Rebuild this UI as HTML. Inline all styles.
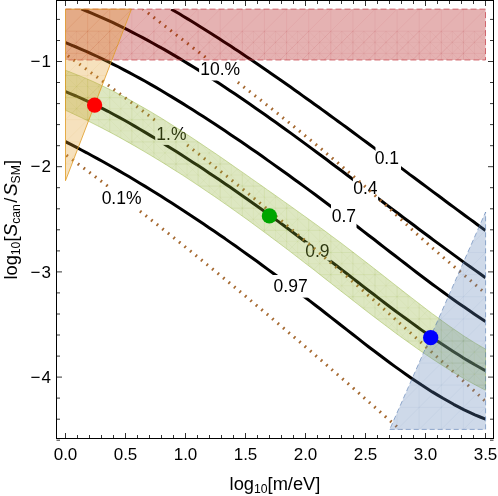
<!DOCTYPE html><html><head><meta charset="utf-8"><style>html,body{margin:0;padding:0;background:#fff}</style></head><body><svg width="498" height="496" viewBox="0 0 498 496" style="display:block;will-change:transform;font-family:'Liberation Sans',sans-serif"><rect width="498" height="496" fill="#fff"/><defs><clipPath id="c"><rect x="65.5" y="9.1" width="420.0" height="420.4"/></clipPath></defs><g clip-path="url(#c)"><path d="M171.3 9.1 L175.3 11.5 L179.3 13.8 L183.2 16.2 L187.2 18.6 L191.2 21.1 L195.2 23.5 L199.1 26.0 L203.1 28.5 L207.1 31.0 L211.1 33.5 L215.0 36.0 L219.0 38.6 L223.0 41.2 L227.0 43.7 L231.0 46.3 L234.9 49.0 L238.9 51.6 L242.9 54.3 L246.9 56.9 L250.8 59.6 L254.8 62.3 L258.8 65.0 L262.8 67.7 L266.8 70.5 L270.7 73.2 L274.7 76.0 L278.7 78.7 L282.7 81.5 L286.6 84.3 L290.6 87.1 L294.6 89.9 L298.6 92.8 L302.5 95.6 L306.5 98.5 L310.5 101.3 L314.5 104.2 L318.5 107.0 L322.4 109.9 L326.4 112.8 L330.4 115.7 L334.4 118.6 L338.3 121.5 L342.3 124.4 L346.3 127.3 L350.3 130.3 L354.3 133.2 L358.2 136.1 L362.2 139.1 L366.2 142.0 L370.2 145.0 L374.1 147.9 L378.1 150.9 L382.1 153.8 L386.1 156.8 L390.0 159.8 L394.0 162.7 L398.0 165.7 L402.0 168.6 L406.0 171.6 L409.9 174.6 L413.9 177.5 L417.9 180.5 L421.9 183.5 L425.8 186.4 L429.8 189.4 L433.8 192.4 L437.8 195.3 L441.8 198.3 L445.7 201.2 L449.7 204.2 L453.7 207.1 L457.7 210.1 L461.6 213.0 L465.6 216.0 L469.6 218.9 L473.6 221.8 L477.5 224.7 L481.5 227.6 L485.5 230.5" fill="none" stroke="#000" stroke-width="3" stroke-linejoin="round"/><path d="M81.3 8.9 L86.4 11.0 L91.5 13.1 L96.6 15.3 L101.8 17.6 L106.9 19.9 L112.0 22.2 L117.1 24.7 L122.2 27.2 L127.3 29.7 L132.5 32.3 L137.6 35.0 L142.7 37.7 L147.8 40.4 L152.9 43.2 L158.0 46.1 L163.2 48.9 L168.3 51.9 L173.4 54.9 L178.5 57.9 L183.6 61.0 L188.7 64.1 L193.9 67.3 L199.0 70.4 L204.1 73.7 L209.2 76.9 L214.3 80.3 L219.4 83.6 L224.6 87.0 L229.7 90.4 L234.8 93.8 L239.9 97.3 L245.0 100.8 L250.1 104.3 L255.3 107.9 L260.4 111.4 L265.5 115.0 L270.6 118.7 L275.7 122.3 L280.8 126.0 L286.0 129.7 L291.1 133.4 L296.2 137.1 L301.3 140.9 L306.4 144.6 L311.5 148.4 L316.7 152.2 L321.8 156.0 L326.9 159.8 L332.0 163.7 L337.1 167.5 L342.2 171.3 L347.4 175.2 L352.5 179.0 L357.6 182.9 L362.7 186.8 L367.8 190.6 L372.9 194.5 L378.1 198.4 L383.2 202.2 L388.3 206.1 L393.4 209.9 L398.5 213.8 L403.6 217.7 L408.8 221.5 L413.9 225.3 L419.0 229.2 L424.1 233.0 L429.2 236.8 L434.3 240.6 L439.5 244.4 L444.6 248.1 L449.7 251.9 L454.8 255.6 L459.9 259.4 L465.0 263.1 L470.2 266.7 L475.3 270.4 L480.4 274.0 L485.5 277.7" fill="none" stroke="#000" stroke-width="3" stroke-linejoin="round"/><path d="M65.5 42.6 L70.8 44.8 L76.1 47.0 L81.4 49.3 L86.8 51.6 L92.1 54.1 L97.4 56.5 L102.7 59.1 L108.0 61.7 L113.3 64.3 L118.7 67.0 L124.0 69.8 L129.3 72.6 L134.6 75.5 L139.9 78.4 L145.2 81.3 L150.6 84.4 L155.9 87.4 L161.2 90.5 L166.5 93.7 L171.8 96.9 L177.1 100.1 L182.5 103.4 L187.8 106.7 L193.1 110.0 L198.4 113.4 L203.7 116.8 L209.0 120.3 L214.4 123.7 L219.7 127.3 L225.0 130.8 L230.3 134.4 L235.6 138.0 L240.9 141.6 L246.3 145.3 L251.6 148.9 L256.9 152.6 L262.2 156.3 L267.5 160.1 L272.8 163.9 L278.2 167.7 L283.5 171.5 L288.8 175.3 L294.1 179.2 L299.4 183.0 L304.7 186.9 L310.1 190.9 L315.4 194.8 L320.7 198.8 L326.0 202.7 L331.3 206.7 L336.6 210.8 L342.0 214.8 L347.3 218.9 L352.6 222.9 L357.9 227.0 L363.2 231.1 L368.5 235.2 L373.9 239.3 L379.2 243.5 L384.5 247.6 L389.8 251.7 L395.1 255.8 L400.4 259.9 L405.8 264.0 L411.1 268.1 L416.4 272.2 L421.7 276.2 L427.0 280.2 L432.3 284.2 L437.7 288.1 L443.0 292.0 L448.3 295.9 L453.6 299.7 L458.9 303.4 L464.2 307.1 L469.6 310.8 L474.9 314.4 L480.2 317.9 L485.5 321.4" fill="none" stroke="#000" stroke-width="3" stroke-linejoin="round"/><path d="M65.5 91.7 L70.8 93.8 L76.1 96.0 L81.4 98.4 L86.8 100.8 L92.1 103.3 L97.4 105.9 L102.7 108.6 L108.0 111.3 L113.3 114.2 L118.7 117.1 L124.0 120.0 L129.3 123.0 L134.6 126.1 L139.9 129.2 L145.2 132.4 L150.6 135.6 L155.9 138.8 L161.2 142.1 L166.5 145.4 L171.8 148.7 L177.1 152.1 L182.5 155.5 L187.8 158.9 L193.1 162.4 L198.4 165.8 L203.7 169.3 L209.0 172.9 L214.4 176.4 L219.7 180.0 L225.0 183.7 L230.3 187.3 L235.6 191.0 L240.9 194.7 L246.3 198.4 L251.6 202.2 L256.9 206.0 L262.2 209.8 L267.5 213.6 L272.8 217.5 L278.2 221.4 L283.5 225.3 L288.8 229.2 L294.1 233.2 L299.4 237.2 L304.7 241.2 L310.1 245.3 L315.4 249.3 L320.7 253.4 L326.0 257.5 L331.3 261.6 L336.6 265.8 L342.0 269.9 L347.3 274.0 L352.6 278.1 L357.9 282.2 L363.2 286.4 L368.5 290.5 L373.9 294.5 L379.2 298.6 L384.5 302.7 L389.8 306.7 L395.1 310.7 L400.4 314.6 L405.8 318.5 L411.1 322.4 L416.4 326.3 L421.7 330.1 L427.0 333.8 L432.3 337.5 L437.7 341.2 L443.0 344.7 L448.3 348.2 L453.6 351.7 L458.9 355.1 L464.2 358.4 L469.6 361.6 L474.9 364.8 L480.2 367.8 L485.5 370.8" fill="none" stroke="#000" stroke-width="3" stroke-linejoin="round"/><path d="M65.5 141.7 L70.8 144.4 L76.1 147.2 L81.4 150.0 L86.8 152.8 L92.1 155.7 L97.4 158.6 L102.7 161.5 L108.0 164.5 L113.3 167.5 L118.7 170.6 L124.0 173.7 L129.3 176.8 L134.6 180.0 L139.9 183.2 L145.2 186.4 L150.6 189.7 L155.9 193.0 L161.2 196.3 L166.5 199.7 L171.8 203.1 L177.1 206.5 L182.5 209.9 L187.8 213.4 L193.1 216.9 L198.4 220.5 L203.7 224.1 L209.0 227.7 L214.4 231.3 L219.7 235.0 L225.0 238.6 L230.3 242.4 L235.6 246.1 L240.9 249.9 L246.3 253.7 L251.6 257.5 L256.9 261.3 L262.2 265.2 L267.5 269.1 L272.8 273.0 L278.2 277.0 L283.5 280.9 L288.8 284.9 L294.1 288.9 L299.4 293.0 L304.7 297.0 L310.1 301.1 L315.4 305.2 L320.7 309.3 L326.0 313.5 L331.3 317.6 L336.6 321.8 L342.0 326.0 L347.3 330.1 L352.6 334.3 L357.9 338.4 L363.2 342.6 L368.5 346.7 L373.9 350.7 L379.2 354.8 L384.5 358.8 L389.8 362.7 L395.1 366.6 L400.4 370.4 L405.8 374.2 L411.1 377.9 L416.4 381.5 L421.7 385.1 L427.0 388.5 L432.3 391.9 L437.7 395.1 L443.0 398.3 L448.3 401.3 L453.6 404.3 L458.9 407.1 L464.2 409.8 L469.6 412.3 L474.9 414.8 L480.2 417.0 L485.5 419.2" fill="none" stroke="#000" stroke-width="3" stroke-linejoin="round"/><rect x="375.5" y="146.5" width="25.5" height="27.5" fill="#fff"/><text x="386.8" y="164.0" font-size="17.5" text-anchor="middle">0.1</text><rect x="352.9" y="176.5" width="25.2" height="27.5" fill="#fff"/><text x="365.4" y="193.8" font-size="17.5" text-anchor="middle">0.4</text><rect x="331.0" y="203.5" width="25.5" height="28.5" fill="#fff"/><text x="343.9" y="222.0" font-size="17.5" text-anchor="middle">0.7</text><rect x="304.5" y="242.3" width="27.0" height="18.2" fill="#fff"/><text x="317.4" y="257.0" font-size="17.5" text-anchor="middle">0.9</text><rect x="272.7" y="275.0" width="35.9" height="22.6" fill="#fff"/><text x="290.6" y="292.4" font-size="17.5" text-anchor="middle">0.97</text><path d="M143.0 9.0 L147.3 12.4 L151.7 15.8 L156.0 19.2 L160.3 22.5 L164.7 25.9 L169.0 29.2 L173.3 32.6 L177.7 35.9 L182.0 39.3 L186.4 42.6 L190.7 46.0 L195.0 49.3 L199.4 52.6 L203.7 56.0 L208.0 59.3 L212.4 62.6 L216.7 66.0 L221.0 69.3 L225.4 72.7 L229.7 76.0 L234.0 79.4 L238.4 82.7 L242.7 86.1 L247.1 89.5 L251.4 92.9 L255.7 96.3 L260.1 99.6 L264.4 103.1 L268.7 106.5 L273.1 109.9 L277.4 113.3 L281.7 116.8 L286.1 120.3 L290.4 123.7 L294.7 127.2 L299.1 130.8 L303.4 134.3 L307.7 137.8 L312.1 141.4 L316.4 145.0 L320.8 148.6 L325.1 152.2 L329.4 155.8 L333.8 159.5 L338.1 163.1 L342.4 166.8 L346.8 170.6 L351.1 174.3 L355.4 178.1 L359.8 181.9 L364.1 185.7 L368.4 189.6 L372.8 193.4 L377.1 197.3 L381.4 201.3 L385.8 205.2 L390.1 209.2 L394.5 213.2 L398.8 217.3 L403.1 221.3 L407.5 225.4 L411.8 229.4 L416.1 233.4 L420.5 237.3 L424.8 241.2 L429.1 245.0 L433.5 248.9 L437.8 252.6 L442.1 256.4 L446.5 260.1 L450.8 263.8 L455.2 267.5 L459.5 271.1 L463.8 274.8 L468.2 278.5 L472.5 282.3 L476.8 286.0 L481.2 289.8 L485.5 293.6" fill="none" stroke="#a5682f" stroke-width="3.1" stroke-dasharray="1.7 5.4" stroke-dashoffset="0.81"/><path d="M65.5 54.0 L70.8 57.9 L76.1 61.7 L81.4 65.6 L86.8 69.5 L92.1 73.4 L97.4 77.3 L102.7 81.2 L108.0 85.1 L113.3 89.1 L118.7 93.0 L124.0 97.0 L129.3 100.9 L134.6 104.9 L139.9 108.9 L145.2 112.9 L150.6 117.0 L155.9 121.0 L161.2 125.0 L166.5 129.1 L171.8 133.2 L177.1 137.3 L182.5 141.4 L187.8 145.5 L193.1 149.7 L198.4 153.8 L203.7 158.0 L209.0 162.2 L214.4 166.4 L219.7 170.6 L225.0 174.8 L230.3 179.1 L235.6 183.3 L240.9 187.6 L246.3 191.9 L251.6 196.3 L256.9 200.6 L262.2 204.9 L267.5 209.3 L272.8 213.7 L278.2 218.1 L283.5 222.6 L288.8 227.0 L294.1 231.5 L299.4 235.9 L304.7 240.4 L310.1 244.9 L315.4 249.5 L320.7 254.0 L326.0 258.6 L331.3 263.1 L336.6 267.7 L342.0 272.3 L347.3 276.9 L352.6 281.6 L357.9 286.2 L363.2 290.9 L368.5 295.6 L373.9 300.2 L379.2 304.9 L384.5 309.7 L389.8 314.4 L395.1 319.1 L400.4 323.9 L405.8 328.6 L411.1 333.4 L416.4 338.2 L421.7 343.0 L427.0 347.8 L432.3 352.6 L437.7 357.5 L443.0 362.3 L448.3 367.2 L453.6 372.0 L458.9 376.9 L464.2 381.8 L469.6 386.7 L474.9 391.6 L480.2 396.5 L485.5 401.4" fill="none" stroke="#a5682f" stroke-width="3.1" stroke-dasharray="1.7 5.4" stroke-dashoffset="4.21"/><path d="M65.5 154.6 L69.8 157.7 L74.1 160.9 L78.4 164.2 L82.7 167.4 L87.1 170.6 L91.4 173.8 L95.7 177.1 L100.0 180.4 L104.3 183.6 L108.6 186.9 L112.9 190.2 L117.2 193.5 L121.5 196.8 L125.8 200.1 L130.2 203.5 L134.5 206.8 L138.8 210.2 L143.1 213.5 L147.4 216.9 L151.7 220.3 L156.0 223.7 L160.3 227.1 L164.6 230.5 L168.9 233.9 L173.3 237.3 L177.6 240.8 L181.9 244.2 L186.2 247.7 L190.5 251.1 L194.8 254.6 L199.1 258.1 L203.4 261.6 L207.7 265.1 L212.0 268.6 L216.4 272.1 L220.7 275.7 L225.0 279.2 L229.3 282.7 L233.6 286.3 L237.9 289.9 L242.2 293.4 L246.5 297.0 L250.8 300.6 L255.1 304.2 L259.5 307.8 L263.8 311.4 L268.1 315.0 L272.4 318.7 L276.7 322.3 L281.0 326.0 L285.3 329.6 L289.6 333.3 L293.9 336.9 L298.2 340.6 L302.6 344.3 L306.9 348.0 L311.2 351.7 L315.5 355.4 L319.8 359.1 L324.1 362.8 L328.4 366.6 L332.7 370.3 L337.0 374.1 L341.3 377.8 L345.7 381.6 L350.0 385.3 L354.3 389.1 L358.6 392.9 L362.9 396.7 L367.2 400.5 L371.5 404.3 L375.8 408.1 L380.1 411.9 L384.4 415.7 L388.8 419.6 L393.1 423.4 L397.4 427.2 L401.7 431.1 L406.0 434.9" fill="none" stroke="#a5682f" stroke-width="3.1" stroke-dasharray="1.7 5.4" stroke-dashoffset="5.89"/><rect x="199.1" y="58.0" width="41.4" height="22.5" fill="#fff"/><text x="220.2" y="75.1" font-size="17.5" text-anchor="middle">10.%</text><rect x="155.2" y="119.3" width="31.3" height="25.6" fill="#fff"/><text x="171.4" y="139.6" font-size="17.5" text-anchor="middle">1.%</text><rect x="100.5" y="187.0" width="42.0" height="22.0" fill="#fff"/><text x="121.6" y="204.1" font-size="17.5" text-anchor="middle">0.1%</text></g><rect x="65.5" y="9.1" width="420" height="50.9" fill="#aa0000" fill-opacity="0.30"/><path d="M65.5 9.1 H485.5 V60 H65.5" fill="none" stroke="#c43a44" stroke-width="0.7" stroke-dasharray="6 3"/><path d="M65.5 70.3 L70.8 72.3 L76.1 74.4 L81.4 76.5 L86.8 78.8 L92.1 81.1 L97.4 83.5 L102.7 86.0 L108.0 88.6 L113.3 91.2 L118.7 94.0 L124.0 96.8 L129.3 99.6 L134.6 102.6 L139.9 105.6 L145.2 108.6 L150.6 111.7 L155.9 114.9 L161.2 118.1 L166.5 121.4 L171.8 124.8 L177.1 128.1 L182.5 131.6 L187.8 135.0 L193.1 138.5 L198.4 142.0 L203.7 145.6 L209.0 149.2 L214.4 152.8 L219.7 156.4 L225.0 160.1 L230.3 163.8 L235.6 167.5 L240.9 171.2 L246.3 174.9 L251.6 178.7 L256.9 182.4 L262.2 186.1 L267.5 189.9 L272.8 193.6 L278.2 197.4 L283.5 201.2 L288.8 204.9 L294.1 208.7 L299.4 212.5 L304.7 216.3 L310.1 220.2 L315.4 224.0 L320.7 227.9 L326.0 231.8 L331.3 235.8 L336.6 239.7 L342.0 243.7 L347.3 247.8 L352.6 251.8 L357.9 255.9 L363.2 260.0 L368.5 264.1 L373.9 268.3 L379.2 272.4 L384.5 276.6 L389.8 280.8 L395.1 284.9 L400.4 289.1 L405.8 293.3 L411.1 297.4 L416.4 301.5 L421.7 305.6 L427.0 309.7 L432.3 313.7 L437.7 317.6 L443.0 321.5 L448.3 325.3 L453.6 329.0 L458.9 332.6 L464.2 336.2 L469.6 339.6 L474.9 342.9 L480.2 346.0 L485.5 349.1 L485.5 390.2 L480.2 387.5 L474.9 384.7 L469.6 381.8 L464.2 378.8 L458.9 375.6 L453.6 372.5 L448.3 369.2 L443.0 365.8 L437.7 362.4 L432.3 358.9 L427.0 355.3 L421.7 351.7 L416.4 348.0 L411.1 344.2 L405.8 340.4 L400.4 336.6 L395.1 332.7 L389.8 328.7 L384.5 324.7 L379.2 320.7 L373.9 316.7 L368.5 312.6 L363.2 308.5 L357.9 304.3 L352.6 300.2 L347.3 296.0 L342.0 291.9 L336.6 287.7 L331.3 283.5 L326.0 279.4 L320.7 275.2 L315.4 271.0 L310.1 266.9 L304.7 262.8 L299.4 258.7 L294.1 254.6 L288.8 250.5 L283.5 246.5 L278.2 242.5 L272.8 238.5 L267.5 234.5 L262.2 230.6 L256.9 226.7 L251.6 222.8 L246.3 218.9 L240.9 215.1 L235.6 211.3 L230.3 207.5 L225.0 203.8 L219.7 200.1 L214.4 196.4 L209.0 192.8 L203.7 189.2 L198.4 185.6 L193.1 182.1 L187.8 178.6 L182.5 175.1 L177.1 171.7 L171.8 168.4 L166.5 165.0 L161.2 161.7 L155.9 158.5 L150.6 155.3 L145.2 152.1 L139.9 149.0 L134.6 145.9 L129.3 142.9 L124.0 139.9 L118.7 136.9 L113.3 134.0 L108.0 131.2 L102.7 128.4 L97.4 125.7 L92.1 123.0 L86.8 120.3 L81.4 117.7 L76.1 115.2 L70.8 112.7 L65.5 110.3 Z" fill="#8fb032" fill-opacity="0.3" stroke="#8fb032" stroke-opacity="0.6" stroke-width="0.7"/><path d="M65.5 9.1 L131.5 9.1 L65.5 180.7 Z" fill="#e19c24" fill-opacity="0.30" stroke="#e19c24" stroke-width="0.8"/><path d="M389.7 429.4 L485.6 429.4 L485.6 212 Z" fill="#5e81b5" fill-opacity="0.3" stroke="#5e81b5" stroke-opacity="0.8" stroke-width="0.8" stroke-dasharray="5 3"/><path d="M65.5 31.2 V60 M65.5 31.2 l28.7 28.8 M76.6 31.2 l-28.7 28.8 M76.6 31.2 V60 M76.6 31.2 l28.7 28.8 M87.6 31.2 l-28.7 28.8 M87.6 31.2 V60 M87.6 31.2 l28.7 28.8 M98.7 31.2 l-28.7 28.8 M98.7 31.2 V60 M98.7 31.2 l28.7 28.8 M109.7 31.2 l-28.7 28.8 M109.7 31.2 V60 M109.7 31.2 l28.7 28.8 M120.8 31.2 l-28.7 28.8 M120.8 31.2 V60 M120.8 31.2 l28.7 28.8 M131.8 31.2 l-28.7 28.8 M131.8 31.2 V60 M131.8 31.2 l28.7 28.8 M142.9 31.2 l-28.7 28.8 M142.9 31.2 V60 M142.9 31.2 l28.7 28.8 M153.9 31.2 l-28.7 28.8 M153.9 31.2 V60 M153.9 31.2 l28.7 28.8 M165.0 31.2 l-28.7 28.8 M165.0 31.2 V60 M165.0 31.2 l28.7 28.8 M176.0 31.2 l-28.7 28.8 M176.0 31.2 V60 M176.0 31.2 l28.7 28.8 M187.1 31.2 l-28.7 28.8 M187.1 31.2 V60 M187.1 31.2 l28.7 28.8 M198.1 31.2 l-28.7 28.8 M198.1 31.2 V60 M198.1 31.2 l28.7 28.8 M209.2 31.2 l-28.7 28.8 M209.2 31.2 V60 M209.2 31.2 l28.7 28.8 M220.2 31.2 l-28.7 28.8 M220.2 31.2 V60 M220.2 31.2 l28.7 28.8 M231.3 31.2 l-28.7 28.8 M231.3 31.2 V60 M231.3 31.2 l28.7 28.8 M242.3 31.2 l-28.7 28.8 M242.3 31.2 V60 M242.3 31.2 l28.7 28.8 M253.4 31.2 l-28.7 28.8 M253.4 31.2 V60 M253.4 31.2 l28.7 28.8 M264.4 31.2 l-28.7 28.8 M264.4 31.2 V60 M264.4 31.2 l28.7 28.8 M275.5 31.2 l-28.7 28.8 M275.5 31.2 V60 M275.5 31.2 l28.7 28.8 M286.6 31.2 l-28.7 28.8 M286.6 31.2 V60 M286.6 31.2 l28.7 28.8 M297.6 31.2 l-28.7 28.8 M297.6 31.2 V60 M297.6 31.2 l28.7 28.8 M308.7 31.2 l-28.7 28.8 M308.7 31.2 V60 M308.7 31.2 l28.7 28.8 M319.7 31.2 l-28.7 28.8 M319.7 31.2 V60 M319.7 31.2 l28.7 28.8 M330.8 31.2 l-28.7 28.8 M330.8 31.2 V60 M330.8 31.2 l28.7 28.8 M341.8 31.2 l-28.7 28.8 M341.8 31.2 V60 M341.8 31.2 l28.7 28.8 M352.9 31.2 l-28.7 28.8 M352.9 31.2 V60 M352.9 31.2 l28.7 28.8 M363.9 31.2 l-28.7 28.8 M363.9 31.2 V60 M363.9 31.2 l28.7 28.8 M375.0 31.2 l-28.7 28.8 M375.0 31.2 V60 M375.0 31.2 l28.7 28.8 M386.0 31.2 l-28.7 28.8 M386.0 31.2 V60 M386.0 31.2 l28.7 28.8 M397.1 31.2 l-28.7 28.8 M397.1 31.2 V60 M397.1 31.2 l28.7 28.8 M408.1 31.2 l-28.7 28.8 M408.1 31.2 V60 M408.1 31.2 l28.7 28.8 M419.2 31.2 l-28.7 28.8 M419.2 31.2 V60 M419.2 31.2 l28.7 28.8 M430.2 31.2 l-28.7 28.8 M430.2 31.2 V60 M430.2 31.2 l28.7 28.8 M441.3 31.2 l-28.7 28.8 M441.3 31.2 V60 M441.3 31.2 l28.7 28.8 M452.3 31.2 l-28.7 28.8 M452.3 31.2 V60 M452.3 31.2 l28.7 28.8 M463.4 31.2 l-28.7 28.8 M463.4 31.2 V60 M463.4 31.2 l28.7 28.8 M474.4 31.2 l-28.7 28.8 M474.4 31.2 V60 M474.4 31.2 l28.7 28.8 M485.5 31.2 l-28.7 28.8 M65.5 42.3 H485.5" fill="none" stroke-width="0.5" stroke="#b01020" stroke-opacity="0.07" clip-path="url(#cr)"/><defs><clipPath id="cr"><rect x="65.5" y="9.1" width="420" height="50.9"/></clipPath><clipPath id="co"><path d="M65.5 9.1 L131.5 9.1 L65.5 180.7 Z"/></clipPath><clipPath id="cg"><path d="M65.5 70.3 L70.8 72.3 L76.1 74.4 L81.4 76.5 L86.8 78.8 L92.1 81.1 L97.4 83.5 L102.7 86.0 L108.0 88.6 L113.3 91.2 L118.7 94.0 L124.0 96.8 L129.3 99.6 L134.6 102.6 L139.9 105.6 L145.2 108.6 L150.6 111.7 L155.9 114.9 L161.2 118.1 L166.5 121.4 L171.8 124.8 L177.1 128.1 L182.5 131.6 L187.8 135.0 L193.1 138.5 L198.4 142.0 L203.7 145.6 L209.0 149.2 L214.4 152.8 L219.7 156.4 L225.0 160.1 L230.3 163.8 L235.6 167.5 L240.9 171.2 L246.3 174.9 L251.6 178.7 L256.9 182.4 L262.2 186.1 L267.5 189.9 L272.8 193.6 L278.2 197.4 L283.5 201.2 L288.8 204.9 L294.1 208.7 L299.4 212.5 L304.7 216.3 L310.1 220.2 L315.4 224.0 L320.7 227.9 L326.0 231.8 L331.3 235.8 L336.6 239.7 L342.0 243.7 L347.3 247.8 L352.6 251.8 L357.9 255.9 L363.2 260.0 L368.5 264.1 L373.9 268.3 L379.2 272.4 L384.5 276.6 L389.8 280.8 L395.1 284.9 L400.4 289.1 L405.8 293.3 L411.1 297.4 L416.4 301.5 L421.7 305.6 L427.0 309.7 L432.3 313.7 L437.7 317.6 L443.0 321.5 L448.3 325.3 L453.6 329.0 L458.9 332.6 L464.2 336.2 L469.6 339.6 L474.9 342.9 L480.2 346.0 L485.5 349.1 L485.5 390.2 L480.2 387.5 L474.9 384.7 L469.6 381.8 L464.2 378.8 L458.9 375.6 L453.6 372.5 L448.3 369.2 L443.0 365.8 L437.7 362.4 L432.3 358.9 L427.0 355.3 L421.7 351.7 L416.4 348.0 L411.1 344.2 L405.8 340.4 L400.4 336.6 L395.1 332.7 L389.8 328.7 L384.5 324.7 L379.2 320.7 L373.9 316.7 L368.5 312.6 L363.2 308.5 L357.9 304.3 L352.6 300.2 L347.3 296.0 L342.0 291.9 L336.6 287.7 L331.3 283.5 L326.0 279.4 L320.7 275.2 L315.4 271.0 L310.1 266.9 L304.7 262.8 L299.4 258.7 L294.1 254.6 L288.8 250.5 L283.5 246.5 L278.2 242.5 L272.8 238.5 L267.5 234.5 L262.2 230.6 L256.9 226.7 L251.6 222.8 L246.3 218.9 L240.9 215.1 L235.6 211.3 L230.3 207.5 L225.0 203.8 L219.7 200.1 L214.4 196.4 L209.0 192.8 L203.7 189.2 L198.4 185.6 L193.1 182.1 L187.8 178.6 L182.5 175.1 L177.1 171.7 L171.8 168.4 L166.5 165.0 L161.2 161.7 L155.9 158.5 L150.6 155.3 L145.2 152.1 L139.9 149.0 L134.6 145.9 L129.3 142.9 L124.0 139.9 L118.7 136.9 L113.3 134.0 L108.0 131.2 L102.7 128.4 L97.4 125.7 L92.1 123.0 L86.8 120.3 L81.4 117.7 L76.1 115.2 L70.8 112.7 L65.5 110.3 Z"/></clipPath><clipPath id="cb"><path d="M389.7 429.4 L485.6 429.4 L485.6 212 Z"/></clipPath></defs><path d="M65.5 9.1 V429.5 M65.5 9.1 H485.5 M87.6 9.1 V429.5 M65.5 31.2 H485.5 M109.7 9.1 V429.5 M65.5 53.4 H485.5 M131.8 9.1 V429.5 M65.5 75.5 H485.5 M153.9 9.1 V429.5 M65.5 97.6 H485.5 M176.0 9.1 V429.5 M65.5 119.7 H485.5 M198.1 9.1 V429.5 M65.5 141.9 H485.5 M220.2 9.1 V429.5 M65.5 164.0 H485.5 M242.3 9.1 V429.5 M65.5 186.1 H485.5 M264.4 9.1 V429.5 M65.5 208.2 H485.5 M286.6 9.1 V429.5 M65.5 230.4 H485.5 M308.7 9.1 V429.5 M65.5 252.5 H485.5 M330.8 9.1 V429.5 M65.5 274.6 H485.5 M352.9 9.1 V429.5 M65.5 296.7 H485.5 M375.0 9.1 V429.5 M65.5 318.9 H485.5 M397.1 9.1 V429.5 M65.5 341.0 H485.5 M419.2 9.1 V429.5 M65.5 363.1 H485.5 M441.3 9.1 V429.5 M65.5 385.2 H485.5 M463.4 9.1 V429.5 M65.5 407.4 H485.5 M485.5 9.1 V429.5 M65.5 429.5 H485.5 M65.5 31.2 L87.6 9.1 M65.5 53.4 L109.7 9.1 M65.5 75.5 L131.8 9.1 M65.5 97.6 L153.9 9.1 M65.5 119.7 L176.0 9.1 M65.5 141.9 L198.1 9.1 M65.5 164.0 L220.2 9.1 M65.5 186.1 L242.3 9.1 M65.5 208.2 L264.4 9.1 M65.5 230.4 L286.6 9.1 M65.5 252.5 L308.7 9.1 M65.5 274.6 L330.8 9.1 M65.5 296.7 L352.9 9.1 M65.5 318.9 L375.0 9.1 M65.5 341.0 L397.1 9.1 M65.5 363.1 L419.2 9.1 M65.5 385.2 L441.3 9.1 M65.5 407.4 L463.4 9.1 M65.5 429.5 L485.5 9.1 M65.5 451.6 L507.6 9.1 M65.5 473.8 L529.7 9.1 M65.5 495.9 L551.8 9.1 M65.5 518.0 L573.9 9.1 M65.5 540.1 L596.0 9.1 M65.5 562.3 L618.1 9.1 M65.5 584.4 L640.2 9.1 M65.5 606.5 L662.3 9.1 M65.5 628.6 L684.4 9.1 M65.5 650.8 L706.6 9.1 M65.5 672.9 L728.7 9.1 M65.5 695.0 L750.8 9.1 M65.5 717.1 L772.9 9.1 M65.5 739.3 L795.0 9.1 M65.5 761.4 L817.1 9.1 M65.5 783.5 L839.2 9.1 M65.5 805.6 L861.3 9.1 M65.5 827.8 L883.4 9.1" fill="none" stroke-width="0.5" clip-path="url(#cr)" stroke="#b01020" stroke-opacity="0.11"/><path d="M65.5 9.1 V429.5 M65.5 9.1 H485.5 M87.6 9.1 V429.5 M65.5 31.2 H485.5 M109.7 9.1 V429.5 M65.5 53.4 H485.5 M131.8 9.1 V429.5 M65.5 75.5 H485.5 M153.9 9.1 V429.5 M65.5 97.6 H485.5 M176.0 9.1 V429.5 M65.5 119.7 H485.5 M198.1 9.1 V429.5 M65.5 141.9 H485.5 M220.2 9.1 V429.5 M65.5 164.0 H485.5 M242.3 9.1 V429.5 M65.5 186.1 H485.5 M264.4 9.1 V429.5 M65.5 208.2 H485.5 M286.6 9.1 V429.5 M65.5 230.4 H485.5 M308.7 9.1 V429.5 M65.5 252.5 H485.5 M330.8 9.1 V429.5 M65.5 274.6 H485.5 M352.9 9.1 V429.5 M65.5 296.7 H485.5 M375.0 9.1 V429.5 M65.5 318.9 H485.5 M397.1 9.1 V429.5 M65.5 341.0 H485.5 M419.2 9.1 V429.5 M65.5 363.1 H485.5 M441.3 9.1 V429.5 M65.5 385.2 H485.5 M463.4 9.1 V429.5 M65.5 407.4 H485.5 M485.5 9.1 V429.5 M65.5 429.5 H485.5 M65.5 31.2 L87.6 9.1 M65.5 53.4 L109.7 9.1 M65.5 75.5 L131.8 9.1 M65.5 97.6 L153.9 9.1 M65.5 119.7 L176.0 9.1 M65.5 141.9 L198.1 9.1 M65.5 164.0 L220.2 9.1 M65.5 186.1 L242.3 9.1 M65.5 208.2 L264.4 9.1 M65.5 230.4 L286.6 9.1 M65.5 252.5 L308.7 9.1 M65.5 274.6 L330.8 9.1 M65.5 296.7 L352.9 9.1 M65.5 318.9 L375.0 9.1 M65.5 341.0 L397.1 9.1 M65.5 363.1 L419.2 9.1 M65.5 385.2 L441.3 9.1 M65.5 407.4 L463.4 9.1 M65.5 429.5 L485.5 9.1 M65.5 451.6 L507.6 9.1 M65.5 473.8 L529.7 9.1 M65.5 495.9 L551.8 9.1 M65.5 518.0 L573.9 9.1 M65.5 540.1 L596.0 9.1 M65.5 562.3 L618.1 9.1 M65.5 584.4 L640.2 9.1 M65.5 606.5 L662.3 9.1 M65.5 628.6 L684.4 9.1 M65.5 650.8 L706.6 9.1 M65.5 672.9 L728.7 9.1 M65.5 695.0 L750.8 9.1 M65.5 717.1 L772.9 9.1 M65.5 739.3 L795.0 9.1 M65.5 761.4 L817.1 9.1 M65.5 783.5 L839.2 9.1 M65.5 805.6 L861.3 9.1 M65.5 827.8 L883.4 9.1" fill="none" stroke-width="0.5" clip-path="url(#co)" stroke="#d08010" stroke-opacity="0.12"/><path d="M65.5 9.1 V429.5 M65.5 9.1 H485.5 M87.6 9.1 V429.5 M65.5 31.2 H485.5 M109.7 9.1 V429.5 M65.5 53.4 H485.5 M131.8 9.1 V429.5 M65.5 75.5 H485.5 M153.9 9.1 V429.5 M65.5 97.6 H485.5 M176.0 9.1 V429.5 M65.5 119.7 H485.5 M198.1 9.1 V429.5 M65.5 141.9 H485.5 M220.2 9.1 V429.5 M65.5 164.0 H485.5 M242.3 9.1 V429.5 M65.5 186.1 H485.5 M264.4 9.1 V429.5 M65.5 208.2 H485.5 M286.6 9.1 V429.5 M65.5 230.4 H485.5 M308.7 9.1 V429.5 M65.5 252.5 H485.5 M330.8 9.1 V429.5 M65.5 274.6 H485.5 M352.9 9.1 V429.5 M65.5 296.7 H485.5 M375.0 9.1 V429.5 M65.5 318.9 H485.5 M397.1 9.1 V429.5 M65.5 341.0 H485.5 M419.2 9.1 V429.5 M65.5 363.1 H485.5 M441.3 9.1 V429.5 M65.5 385.2 H485.5 M463.4 9.1 V429.5 M65.5 407.4 H485.5 M485.5 9.1 V429.5 M65.5 429.5 H485.5 M65.5 31.2 L87.6 9.1 M65.5 53.4 L109.7 9.1 M65.5 75.5 L131.8 9.1 M65.5 97.6 L153.9 9.1 M65.5 119.7 L176.0 9.1 M65.5 141.9 L198.1 9.1 M65.5 164.0 L220.2 9.1 M65.5 186.1 L242.3 9.1 M65.5 208.2 L264.4 9.1 M65.5 230.4 L286.6 9.1 M65.5 252.5 L308.7 9.1 M65.5 274.6 L330.8 9.1 M65.5 296.7 L352.9 9.1 M65.5 318.9 L375.0 9.1 M65.5 341.0 L397.1 9.1 M65.5 363.1 L419.2 9.1 M65.5 385.2 L441.3 9.1 M65.5 407.4 L463.4 9.1 M65.5 429.5 L485.5 9.1 M65.5 451.6 L507.6 9.1 M65.5 473.8 L529.7 9.1 M65.5 495.9 L551.8 9.1 M65.5 518.0 L573.9 9.1 M65.5 540.1 L596.0 9.1 M65.5 562.3 L618.1 9.1 M65.5 584.4 L640.2 9.1 M65.5 606.5 L662.3 9.1 M65.5 628.6 L684.4 9.1 M65.5 650.8 L706.6 9.1 M65.5 672.9 L728.7 9.1 M65.5 695.0 L750.8 9.1 M65.5 717.1 L772.9 9.1 M65.5 739.3 L795.0 9.1 M65.5 761.4 L817.1 9.1 M65.5 783.5 L839.2 9.1 M65.5 805.6 L861.3 9.1 M65.5 827.8 L883.4 9.1" fill="none" stroke-width="0.5" clip-path="url(#cg)" stroke="#80a020" stroke-opacity="0.11"/><path d="M65.5 9.1 V429.5 M65.5 9.1 H485.5 M76.6 9.1 V429.5 M65.5 20.2 H485.5 M87.6 9.1 V429.5 M65.5 31.2 H485.5 M98.7 9.1 V429.5 M65.5 42.3 H485.5 M109.7 9.1 V429.5 M65.5 53.4 H485.5 M120.8 9.1 V429.5 M65.5 64.4 H485.5 M131.8 9.1 V429.5 M65.5 75.5 H485.5 M142.9 9.1 V429.5 M65.5 86.5 H485.5 M153.9 9.1 V429.5 M65.5 97.6 H485.5 M165.0 9.1 V429.5 M65.5 108.7 H485.5 M176.0 9.1 V429.5 M65.5 119.7 H485.5 M187.1 9.1 V429.5 M65.5 130.8 H485.5 M198.1 9.1 V429.5 M65.5 141.9 H485.5 M209.2 9.1 V429.5 M65.5 152.9 H485.5 M220.2 9.1 V429.5 M65.5 164.0 H485.5 M231.3 9.1 V429.5 M65.5 175.0 H485.5 M242.3 9.1 V429.5 M65.5 186.1 H485.5 M253.4 9.1 V429.5 M65.5 197.2 H485.5 M264.4 9.1 V429.5 M65.5 208.2 H485.5 M275.5 9.1 V429.5 M65.5 219.3 H485.5 M286.6 9.1 V429.5 M65.5 230.4 H485.5 M297.6 9.1 V429.5 M65.5 241.4 H485.5 M308.7 9.1 V429.5 M65.5 252.5 H485.5 M319.7 9.1 V429.5 M65.5 263.6 H485.5 M330.8 9.1 V429.5 M65.5 274.6 H485.5 M341.8 9.1 V429.5 M65.5 285.7 H485.5 M352.9 9.1 V429.5 M65.5 296.7 H485.5 M363.9 9.1 V429.5 M65.5 307.8 H485.5 M375.0 9.1 V429.5 M65.5 318.9 H485.5 M386.0 9.1 V429.5 M65.5 329.9 H485.5 M397.1 9.1 V429.5 M65.5 341.0 H485.5 M408.1 9.1 V429.5 M65.5 352.1 H485.5 M419.2 9.1 V429.5 M65.5 363.1 H485.5 M430.2 9.1 V429.5 M65.5 374.2 H485.5 M441.3 9.1 V429.5 M65.5 385.2 H485.5 M452.3 9.1 V429.5 M65.5 396.3 H485.5 M463.4 9.1 V429.5 M65.5 407.4 H485.5 M474.4 9.1 V429.5 M65.5 418.4 H485.5 M485.5 9.1 V429.5 M65.5 429.5 H485.5 M-354.5 9.1 l420 420.4 M-343.4 9.1 l420 420.4 M-332.4 9.1 l420 420.4 M-321.3 9.1 l420 420.4 M-310.3 9.1 l420 420.4 M-299.2 9.1 l420 420.4 M-288.2 9.1 l420 420.4 M-277.1 9.1 l420 420.4 M-266.1 9.1 l420 420.4 M-255.0 9.1 l420 420.4 M-244.0 9.1 l420 420.4 M-232.9 9.1 l420 420.4 M-221.9 9.1 l420 420.4 M-210.8 9.1 l420 420.4 M-199.8 9.1 l420 420.4 M-188.7 9.1 l420 420.4 M-177.7 9.1 l420 420.4 M-166.6 9.1 l420 420.4 M-155.6 9.1 l420 420.4 M-144.5 9.1 l420 420.4 M-133.4 9.1 l420 420.4 M-122.4 9.1 l420 420.4 M-111.3 9.1 l420 420.4 M-100.3 9.1 l420 420.4 M-89.2 9.1 l420 420.4 M-78.2 9.1 l420 420.4 M-67.1 9.1 l420 420.4 M-56.1 9.1 l420 420.4 M-45.0 9.1 l420 420.4 M-34.0 9.1 l420 420.4 M-22.9 9.1 l420 420.4 M-11.9 9.1 l420 420.4 M-0.8 9.1 l420 420.4 M10.2 9.1 l420 420.4 M21.3 9.1 l420 420.4 M32.3 9.1 l420 420.4 M43.4 9.1 l420 420.4 M54.4 9.1 l420 420.4 M65.5 9.1 l420 420.4 M76.6 9.1 l420 420.4 M87.6 9.1 l420 420.4 M98.7 9.1 l420 420.4 M109.7 9.1 l420 420.4 M120.8 9.1 l420 420.4 M131.8 9.1 l420 420.4 M142.9 9.1 l420 420.4 M153.9 9.1 l420 420.4 M165.0 9.1 l420 420.4 M176.0 9.1 l420 420.4 M187.1 9.1 l420 420.4 M198.1 9.1 l420 420.4 M209.2 9.1 l420 420.4 M220.2 9.1 l420 420.4 M231.3 9.1 l420 420.4 M242.3 9.1 l420 420.4 M253.4 9.1 l420 420.4 M264.4 9.1 l420 420.4 M275.5 9.1 l420 420.4 M286.6 9.1 l420 420.4 M297.6 9.1 l420 420.4 M308.7 9.1 l420 420.4 M319.7 9.1 l420 420.4 M330.8 9.1 l420 420.4 M341.8 9.1 l420 420.4 M352.9 9.1 l420 420.4 M363.9 9.1 l420 420.4 M375.0 9.1 l420 420.4 M386.0 9.1 l420 420.4 M397.1 9.1 l420 420.4 M408.1 9.1 l420 420.4 M419.2 9.1 l420 420.4 M430.2 9.1 l420 420.4 M441.3 9.1 l420 420.4 M452.3 9.1 l420 420.4 M463.4 9.1 l420 420.4 M474.4 9.1 l420 420.4 M485.5 9.1 l420 420.4" fill="none" stroke-width="0.5" stroke="#80a020" stroke-opacity="0.09" clip-path="url(#cg)"/><path d="M65.5 9.1 V429.5 M65.5 9.1 H485.5 M87.6 9.1 V429.5 M65.5 31.2 H485.5 M109.7 9.1 V429.5 M65.5 53.4 H485.5 M131.8 9.1 V429.5 M65.5 75.5 H485.5 M153.9 9.1 V429.5 M65.5 97.6 H485.5 M176.0 9.1 V429.5 M65.5 119.7 H485.5 M198.1 9.1 V429.5 M65.5 141.9 H485.5 M220.2 9.1 V429.5 M65.5 164.0 H485.5 M242.3 9.1 V429.5 M65.5 186.1 H485.5 M264.4 9.1 V429.5 M65.5 208.2 H485.5 M286.6 9.1 V429.5 M65.5 230.4 H485.5 M308.7 9.1 V429.5 M65.5 252.5 H485.5 M330.8 9.1 V429.5 M65.5 274.6 H485.5 M352.9 9.1 V429.5 M65.5 296.7 H485.5 M375.0 9.1 V429.5 M65.5 318.9 H485.5 M397.1 9.1 V429.5 M65.5 341.0 H485.5 M419.2 9.1 V429.5 M65.5 363.1 H485.5 M441.3 9.1 V429.5 M65.5 385.2 H485.5 M463.4 9.1 V429.5 M65.5 407.4 H485.5 M485.5 9.1 V429.5 M65.5 429.5 H485.5 M65.5 31.2 L87.6 9.1 M65.5 53.4 L109.7 9.1 M65.5 75.5 L131.8 9.1 M65.5 97.6 L153.9 9.1 M65.5 119.7 L176.0 9.1 M65.5 141.9 L198.1 9.1 M65.5 164.0 L220.2 9.1 M65.5 186.1 L242.3 9.1 M65.5 208.2 L264.4 9.1 M65.5 230.4 L286.6 9.1 M65.5 252.5 L308.7 9.1 M65.5 274.6 L330.8 9.1 M65.5 296.7 L352.9 9.1 M65.5 318.9 L375.0 9.1 M65.5 341.0 L397.1 9.1 M65.5 363.1 L419.2 9.1 M65.5 385.2 L441.3 9.1 M65.5 407.4 L463.4 9.1 M65.5 429.5 L485.5 9.1 M65.5 451.6 L507.6 9.1 M65.5 473.8 L529.7 9.1 M65.5 495.9 L551.8 9.1 M65.5 518.0 L573.9 9.1 M65.5 540.1 L596.0 9.1 M65.5 562.3 L618.1 9.1 M65.5 584.4 L640.2 9.1 M65.5 606.5 L662.3 9.1 M65.5 628.6 L684.4 9.1 M65.5 650.8 L706.6 9.1 M65.5 672.9 L728.7 9.1 M65.5 695.0 L750.8 9.1 M65.5 717.1 L772.9 9.1 M65.5 739.3 L795.0 9.1 M65.5 761.4 L817.1 9.1 M65.5 783.5 L839.2 9.1 M65.5 805.6 L861.3 9.1 M65.5 827.8 L883.4 9.1" fill="none" stroke-width="0.5" clip-path="url(#cb)" stroke="#4060a0" stroke-opacity="0.10"/><circle cx="94.6" cy="105.1" r="7.65" fill="#ff0000"/><circle cx="269.4" cy="215.9" r="7.65" fill="#00a500"/><circle cx="430.7" cy="337.7" r="7.65" fill="#0000ff"/><rect x="56.5" y="0.5" width="437.0" height="438.0" fill="none" stroke="#000" stroke-width="1"/><path d="M65.5 438.5 v-5.5 M65.5 0.5 v5.5 M77.5 438.5 v-3.5 M77.5 0.5 v3.5 M89.5 438.5 v-3.5 M89.5 0.5 v3.5 M101.5 438.5 v-3.5 M101.5 0.5 v3.5 M113.5 438.5 v-3.5 M113.5 0.5 v3.5 M125.5 438.5 v-5.5 M125.5 0.5 v5.5 M137.5 438.5 v-3.5 M137.5 0.5 v3.5 M149.5 438.5 v-3.5 M149.5 0.5 v3.5 M161.5 438.5 v-3.5 M161.5 0.5 v3.5 M173.5 438.5 v-3.5 M173.5 0.5 v3.5 M185.5 438.5 v-5.5 M185.5 0.5 v5.5 M197.5 438.5 v-3.5 M197.5 0.5 v3.5 M209.5 438.5 v-3.5 M209.5 0.5 v3.5 M221.5 438.5 v-3.5 M221.5 0.5 v3.5 M233.5 438.5 v-3.5 M233.5 0.5 v3.5 M245.5 438.5 v-5.5 M245.5 0.5 v5.5 M257.5 438.5 v-3.5 M257.5 0.5 v3.5 M269.5 438.5 v-3.5 M269.5 0.5 v3.5 M281.5 438.5 v-3.5 M281.5 0.5 v3.5 M293.5 438.5 v-3.5 M293.5 0.5 v3.5 M305.5 438.5 v-5.5 M305.5 0.5 v5.5 M317.5 438.5 v-3.5 M317.5 0.5 v3.5 M329.5 438.5 v-3.5 M329.5 0.5 v3.5 M341.5 438.5 v-3.5 M341.5 0.5 v3.5 M353.5 438.5 v-3.5 M353.5 0.5 v3.5 M365.5 438.5 v-5.5 M365.5 0.5 v5.5 M377.5 438.5 v-3.5 M377.5 0.5 v3.5 M389.5 438.5 v-3.5 M389.5 0.5 v3.5 M401.5 438.5 v-3.5 M401.5 0.5 v3.5 M413.5 438.5 v-3.5 M413.5 0.5 v3.5 M425.5 438.5 v-5.5 M425.5 0.5 v5.5 M437.5 438.5 v-3.5 M437.5 0.5 v3.5 M449.5 438.5 v-3.5 M449.5 0.5 v3.5 M461.5 438.5 v-3.5 M461.5 0.5 v3.5 M473.5 438.5 v-3.5 M473.5 0.5 v3.5 M485.5 438.5 v-5.5 M485.5 0.5 v5.5 M56.5 19.4 h3.5 M493.5 19.4 h-3.5 M56.5 40.5 h3.5 M493.5 40.5 h-3.5 M56.5 61.5 h5.5 M493.5 61.5 h-5.5 M56.5 82.5 h3.5 M493.5 82.5 h-3.5 M56.5 103.6 h3.5 M493.5 103.6 h-3.5 M56.5 124.6 h3.5 M493.5 124.6 h-3.5 M56.5 145.7 h3.5 M493.5 145.7 h-3.5 M56.5 166.7 h5.5 M493.5 166.7 h-5.5 M56.5 187.7 h3.5 M493.5 187.7 h-3.5 M56.5 208.8 h3.5 M493.5 208.8 h-3.5 M56.5 229.8 h3.5 M493.5 229.8 h-3.5 M56.5 250.9 h3.5 M493.5 250.9 h-3.5 M56.5 271.9 h5.5 M493.5 271.9 h-5.5 M56.5 292.9 h3.5 M493.5 292.9 h-3.5 M56.5 314.0 h3.5 M493.5 314.0 h-3.5 M56.5 335.0 h3.5 M493.5 335.0 h-3.5 M56.5 356.1 h3.5 M493.5 356.1 h-3.5 M56.5 377.1 h5.5 M493.5 377.1 h-5.5 M56.5 398.1 h3.5 M493.5 398.1 h-3.5 M56.5 419.2 h3.5 M493.5 419.2 h-3.5 M56.5 440.2 h3.5 M493.5 440.2 h-3.5" stroke="#000" stroke-width="0.8" fill="none"/><text x="65.5" y="459.9" font-size="17" text-anchor="middle">0.0</text><text x="125.5" y="459.9" font-size="17" text-anchor="middle">0.5</text><text x="185.5" y="459.9" font-size="17" text-anchor="middle">1.0</text><text x="245.5" y="459.9" font-size="17" text-anchor="middle">1.5</text><text x="305.5" y="459.9" font-size="17" text-anchor="middle">2.0</text><text x="365.5" y="459.9" font-size="17" text-anchor="middle">2.5</text><text x="425.5" y="459.9" font-size="17" text-anchor="middle">3.0</text><text x="485.5" y="459.9" font-size="17" text-anchor="middle">3.5</text><text x="51" y="67.1" font-size="17" text-anchor="end">−<tspan dx="1.2">1</tspan></text><text x="51" y="172.3" font-size="17" text-anchor="end">−<tspan dx="1.2">2</tspan></text><text x="51" y="277.5" font-size="17" text-anchor="end">−<tspan dx="1.2">3</tspan></text><text x="51" y="382.7" font-size="17" text-anchor="end">−<tspan dx="1.2">4</tspan></text><text x="275" y="490" font-size="18.3" text-anchor="middle">log<tspan font-size="12.2" dy="3">10</tspan><tspan dy="-3">[m/eV]</tspan></text><text transform="translate(17 219.8) rotate(-90)" font-size="18.3" text-anchor="middle">log<tspan font-size="12.2" dy="3">10</tspan><tspan dy="-3">[</tspan><tspan font-style="italic" font-size="19">S</tspan><tspan font-size="12.2" dy="3">can</tspan><tspan dy="-3" dx="1.5">/</tspan><tspan font-style="italic" font-size="19" dx="1.5">S</tspan><tspan font-size="12.2" dy="3">SM</tspan><tspan dy="-3">]</tspan></text></svg></body></html>
